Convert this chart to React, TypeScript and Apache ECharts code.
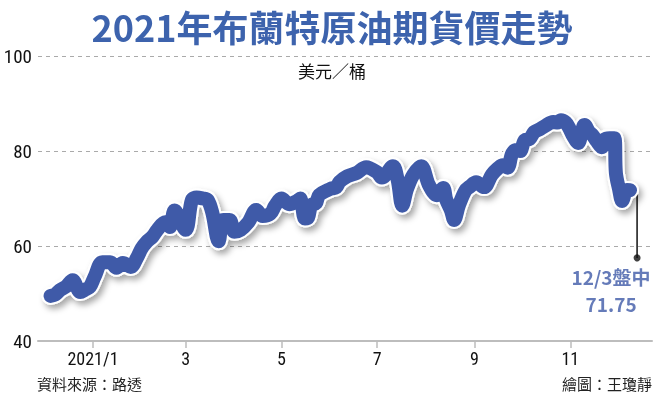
import React, { useEffect, useRef } from "react";
import * as echarts from "echarts";

// day offsets from 2021-01-01 and Brent price (USD/bbl)
const days = [
  -27, -24, -21, -17, -13, -8, -5, -2, 1, 6, 11, 15, 19, 24, 28, 31, 34, 38, 41, 46, 49, 52, 59, 63, 66, 70, 73, 76,
  80, 83, 87, 90, 94, 99, 104, 108, 113, 116, 120, 125, 130, 132, 135, 137, 139, 142, 144, 151, 155, 157, 162, 168,
  174, 181, 184, 191, 194, 197, 200, 204, 209, 214, 219, 223, 225, 228, 230, 233, 237, 240, 244, 249, 254, 258, 261,
  264, 267, 270, 272, 275, 278, 281, 284, 288, 293, 296, 298, 301, 303, 306, 309, 311, 313, 316, 318, 321, 324, 326,
  329, 332, 333, 335, 337, 340, 342,
];
const prices = [
  49.5, 49.8, 50.7, 51.5, 52.8, 50.3, 50.8, 51.4, 53.5, 56.6, 56.6, 55.4, 56.4, 55.6, 57.5, 59.5, 60.8, 62, 63.4, 65,
  64, 67.5, 63.4, 69.7, 70.2, 70, 69.7, 67, 61, 65.5, 65.5, 63, 63.4, 65, 67.6, 66.3, 66.8, 68.5, 70, 68.8, 69.5, 70,
  65.8, 66, 68.6, 69, 70.7, 72, 72.4, 73.5, 74.7, 75.4, 76.6, 75.5, 74.4, 76.8, 74, 68.5, 72, 75, 76.8, 72.8, 70.7,
  72.2, 69.7, 67.5, 65.5, 68.5, 71.6, 72.5, 73.4, 72.4, 75, 76.4, 77, 76.5, 79.5, 80.2, 80, 82.3, 82.5, 84, 84.5,
  85.3, 86.1, 86, 86.5, 86, 85, 83, 81.7, 83.5, 85.5, 84, 83.4, 82, 80.8, 82.5, 82.7, 82.7, 75.4, 72, 69.5, 71.8,
  71.75,
];

const tickDays = [0, 59, 120, 181, 243, 304];
const tickLabels = ["2021/1", "3", "5", "7", "9", "11"];

const lastValue = 71.75;
const lastLabel = "12/3盤中";
const calloutDay = 346.5;
const calloutBottom = 57.5;

const NARROW = '"Liberation Sans Narrow", "Roboto Condensed", "Liberation Sans", Arial, sans-serif';
const CJK = '"Noto Sans CJK TC", "Noto Sans CJK SC", sans-serif';
const BLUE = "#3f5aa8";

const calloutText = {
  color: BLUE,
  fontSize: 19,
  fontWeight: "bold",
  fontFamily: CJK,
  lineHeight: 20,
  align: "center",
};

export default function App() {
  const ref = useRef<HTMLDivElement>(null);
  useEffect(() => {
    if (!ref.current) return;
    const chart = echarts.init(ref.current, undefined, { renderer: "svg" });
    const lineData = days.map((d, i) => [d, prices[i]]);
    const lastDay = days[days.length - 1];
    chart.setOption({
      animation: false,
      grid: { left: 38, right: 4, top: 56, bottom: 54 },
      xAxis: {
        type: "value",
        min: -35,
        max: 356,
        axisLine: { show: true, lineStyle: { color: "#bdbdbd", width: 2 } },
        axisTick: {
          show: true,
          customValues: tickDays,
          length: 7,
          lineStyle: { color: "#bdbdbd", width: 1.5 },
        },
        axisLabel: {
          customValues: tickDays,
          formatter: (v: number) => {
            const i = tickDays.indexOf(v);
            return i >= 0 ? tickLabels[i] : "";
          },
          color: "#111",
          fontSize: 18,
          fontFamily: NARROW,
          margin: 8,
        },
        splitLine: { show: false },
      },
      yAxis: {
        type: "value",
        min: 40,
        max: 100,
        interval: 20,
        axisLine: { show: false },
        axisTick: { show: false },
        axisLabel: { color: "#111", fontSize: 19, fontFamily: NARROW, margin: 6 },
        splitLine: { show: true, showMinLine: false, lineStyle: { color: "#aaaaaa", type: [4, 4], width: 1 } },
      },
      series: [
        {
          type: "line",
          data: lineData,
          symbol: "none",
          smooth: 0.35,
          silent: true,
          lineStyle: {
            color: "#ffffff",
            width: 18,
            cap: "round",
            join: "round",
            shadowColor: "rgba(0,0,0,0.35)",
            shadowBlur: 6,
            shadowOffsetX: 3,
            shadowOffsetY: 4,
          },
          z: 2,
        },
        {
          type: "line",
          data: lineData,
          symbol: "none",
          smooth: 0.35,
          silent: true,
          lineStyle: { color: BLUE, width: 14, cap: "round", join: "round" },
          z: 3,
        },
        {
          type: "line",
          data: [
            [lastDay, lastValue],
            [calloutDay, lastValue],
            [calloutDay, calloutBottom],
          ],
          symbol: "none",
          lineStyle: { color: "#111", width: 1.5 },
          z: 1,
        },
        {
          type: "scatter",
          data: [[calloutDay, calloutBottom]],
          symbolSize: 7,
          itemStyle: { color: "#111" },
          z: 4,
          label: {
            show: true,
            position: "bottom",
            offset: [-26, 0],
            formatter: lastLabel,
            ...calloutText,
          },
        },
        {
          type: "scatter",
          data: [[calloutDay, calloutBottom]],
          symbolSize: 1,
          itemStyle: { color: "rgba(0,0,0,0)" },
          z: 4,
          label: {
            show: true,
            position: "bottom",
            offset: [-26, 30],
            formatter: String(lastValue),
            ...calloutText,
          },
        },
      ],
      graphic: [
        {
          type: "text",
          x: 332,
          y: 26,
          style: {
            text: "2021年布蘭特原油期貨價走勢",
            fill: "#3d63ad",
            fontSize: 36,
            fontWeight: "bold",
            fontFamily: CJK,
            textAlign: "center",
            textVerticalAlign: "middle",
          },
        },
        {
          type: "text",
          x: 332,
          y: 70,
          style: {
            text: "美元／桶",
            fill: "#111",
            fontSize: 17,
            fontFamily: CJK,
            textAlign: "center",
            textVerticalAlign: "middle",
          },
        },
        {
          type: "text",
          x: 37,
          y: 383,
          style: {
            text: "資料來源：路透",
            fill: "#222",
            fontSize: 15,
            fontFamily: CJK,
            textAlign: "left",
            textVerticalAlign: "middle",
          },
        },
        {
          type: "text",
          x: 652,
          y: 383,
          style: {
            text: "繪圖：王瓊靜",
            fill: "#222",
            fontSize: 15,
            fontFamily: CJK,
            textAlign: "right",
            textVerticalAlign: "middle",
          },
        },
      ],
    });
    return () => chart.dispose();
  }, []);
  return <div ref={ref} style={{ position: "fixed", left: 0, top: 0, width: 656, height: 395 }} />;
}
